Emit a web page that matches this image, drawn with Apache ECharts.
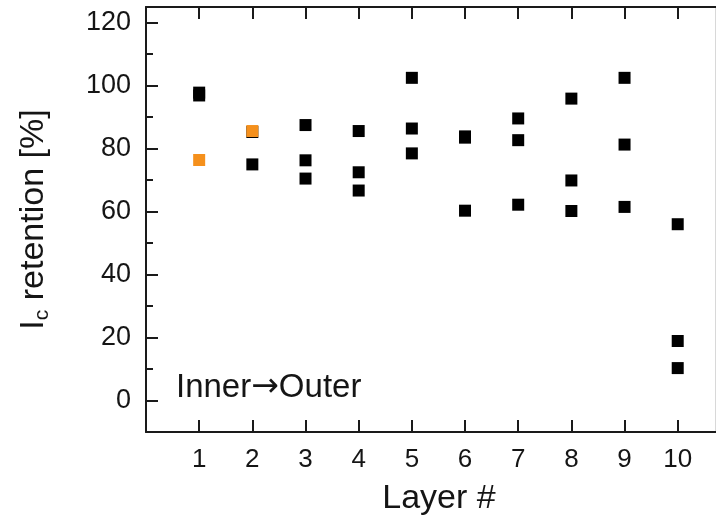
<!DOCTYPE html>
<html><head><meta charset="utf-8">
<script src="https://cdn.jsdelivr.net/npm/echarts@6/dist/echarts.min.js"></script>
<style>html,body{margin:0;padding:0;background:#fff}#c{width:716px;height:520px}</style>
</head><body><div id="c"></div>
<script>
// ---- data ----
const layers = [1, 2, 3, 4, 5, 6, 7, 8, 9, 10];
const blackValues = [
  [97.8, 96.9],
  [85.3, 75.0],
  [87.5, 76.3, 70.5],
  [85.6, 72.5, 66.7],
  [102.5, 86.4, 78.5],
  [83.9, 83.5, 60.3],
  [89.6, 82.7, 62.2],
  [95.9, 69.9, 60.2],
  [102.5, 81.3, 61.5],
  [56.0, 18.9, 10.3]
];
const orangeLayers = [1, 2];
const orangeValues = [76.4, 85.6];
const xTickLabels = [1, 2, 3, 4, 5, 6, 7, 8, 9, 10];
const yTickLabels = [0, 20, 40, 60, 80, 100, 120];
const yMinorTicks = [10, 30, 50, 70, 90, 110];

// ---- build ----
const blackData = [];
layers.forEach((l, i) => blackValues[i].forEach(v => blackData.push([l, v])));
const orangeData = orangeLayers.map((l, i) => [l, orangeValues[i]]);

const FONT = 'Liberation Sans, Arial, sans-serif';
const TXT = '#151515';
const LINE = '#1a1a1a';

const chart = echarts.init(document.getElementById('c'));
chart.setOption({
  animation: false,
  grid: { left: 146, right: 0, top: 7, bottom: 88, containLabel: false, outerBoundsMode: 'none' },
  xAxis: [
    {
      type: 'value', min: 0, max: 10.72, position: 'bottom',
      splitLine: { show: false },
      axisLine: { onZero: false, lineStyle: { color: LINE, width: 2 } },
      axisTick: { inside: true, length: 12, customValues: xTickLabels, lineStyle: { color: LINE, width: 2 } },
      axisLabel: { customValues: xTickLabels, color: TXT, fontSize: 26, fontFamily: FONT, margin: 15 },
      name: 'Layer #', nameLocation: 'middle', nameGap: 50,
      nameTextStyle: { color: TXT, fontSize: 34, fontFamily: FONT, padding: [0, 0, 0, 16] }
    },
    {
      type: 'value', min: 0, max: 10.72, position: 'top',
      splitLine: { show: false },
      axisLine: { onZero: false, lineStyle: { color: LINE, width: 2 } },
      axisTick: { inside: true, length: 12, customValues: xTickLabels, lineStyle: { color: LINE, width: 2 } },
      axisLabel: { show: false }
    }
  ],
  yAxis: [
    {
      type: 'value', min: -10, max: 125, position: 'left',
      splitLine: { show: false },
      axisLine: { onZero: false, lineStyle: { color: LINE, width: 2 } },
      axisTick: { inside: true, length: 12, customValues: yTickLabels, lineStyle: { color: LINE, width: 2 } },
      axisLabel: { customValues: yTickLabels, color: TXT, fontSize: 27, fontFamily: FONT, margin: 15 },
      name: '{m|I}{s|c}{m| retention [%]}', nameLocation: 'middle', nameGap: 93,
      nameTextStyle: {
        color: TXT, fontFamily: FONT,
        rich: {
          m: { fontSize: 34, fontFamily: FONT, color: TXT, lineHeight: 38 },
          s: { fontSize: 21, fontFamily: FONT, color: TXT, verticalAlign: 'bottom', lineHeight: 26, padding: [14, 0, 0, 0] }
        }
      }
    },
    {
      type: 'value', min: -10, max: 125, position: 'left',
      splitLine: { show: false },
      axisLine: { show: false, onZero: false },
      axisTick: { inside: true, length: 7, customValues: yMinorTicks, lineStyle: { color: LINE, width: 2 } },
      axisLabel: { show: false }
    },
    {
      type: 'value', min: -10, max: 125, position: 'right',
      splitLine: { show: false },
      axisLine: { onZero: false, lineStyle: { color: '#d8d8d8', width: 2 } },
      axisTick: { show: false },
      axisLabel: { show: false }
    }
  ],
  graphic: [{
    type: 'text', left: 176, top: 371,
    style: {
      text: '{a|Inner}{b|\u2192}{a|Outer}',
      rich: {
        a: { fontSize: 33, fontFamily: FONT, fill: TXT, color: TXT },
        b: { fontSize: 33, fontFamily: 'DejaVu Sans', fill: TXT, color: TXT }
      }
    }
  }],
  series: [
    {
      type: 'scatter', xAxisIndex: 0, yAxisIndex: 0, data: blackData,
      symbol: 'rect', symbolSize: 12, itemStyle: { color: '#000', opacity: 1 }
    },
    {
      type: 'scatter', xAxisIndex: 0, yAxisIndex: 0, data: orangeData,
      symbol: 'rect', symbolSize: 12, itemStyle: { color: '#f5901c', opacity: 1 }, z: 3
    }
  ]
});
</script></body></html>
